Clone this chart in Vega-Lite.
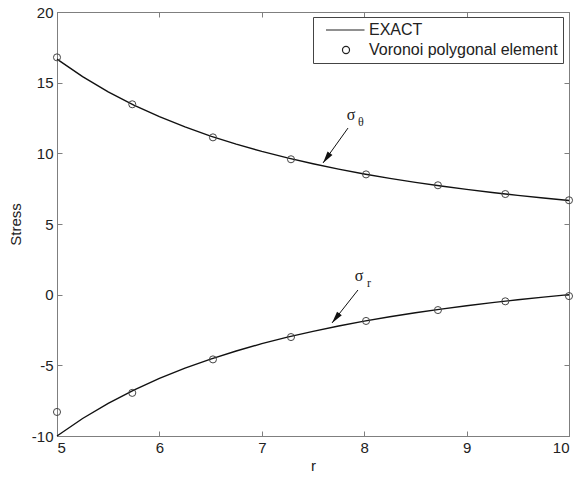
{
  "$schema": "https://vega.github.io/schema/vega-lite/v6.json",
  "width": 512,
  "height": 424,
  "autosize": {"type": "none"},
  "padding": {"left": 57, "top": 12, "right": 10, "bottom": 41},
  "config": {
    "font": "Liberation Sans",
    "view": {"stroke": "#7f7f7f", "strokeWidth": 1},
    "axis": {
      "domainColor": "#7f7f7f", "tickColor": "#7f7f7f", "tickSize": -5, "grid": false,
      "labelFont": "Liberation Sans", "labelFontSize": 15, "labelColor": "#222",
      "titleFont": "Liberation Sans", "titleFontSize": 15, "titleFontWeight": "normal", "titleColor": "#222"
    },
    "legend": {
      "orient": "none", "legendX": 256, "legendY": 5,
      "strokeColor": "#444", "fillColor": "white", "padding": 5,
      "labelFont": "Liberation Sans", "labelFontSize": 16, "labelColor": "#222", "labelOffset": 15, "labelLimit": 0,
      "symbolStrokeColor": "#222", "symbolFillColor": "transparent", "symbolStrokeWidth": 1.2,
      "symbolOffset": 20, "rowPadding": 4
    }
  },
  "datasets": {
    "exact": [
      {"r": 5, "stress": 16.667, "comp": "theta"}, {"r": 5.25, "stress": 15.427, "comp": "theta"},
      {"r": 5.5, "stress": 14.353, "comp": "theta"}, {"r": 5.75, "stress": 13.415, "comp": "theta"},
      {"r": 6, "stress": 12.593, "comp": "theta"}, {"r": 6.25, "stress": 11.867, "comp": "theta"},
      {"r": 6.5, "stress": 11.223, "comp": "theta"}, {"r": 6.75, "stress": 10.649, "comp": "theta"},
      {"r": 7, "stress": 10.136, "comp": "theta"}, {"r": 7.25, "stress": 9.675, "comp": "theta"},
      {"r": 7.5, "stress": 9.259, "comp": "theta"}, {"r": 7.75, "stress": 8.883, "comp": "theta"},
      {"r": 8, "stress": 8.542, "comp": "theta"}, {"r": 8.25, "stress": 8.231, "comp": "theta"},
      {"r": 8.5, "stress": 7.947, "comp": "theta"}, {"r": 8.75, "stress": 7.687, "comp": "theta"},
      {"r": 9, "stress": 7.449, "comp": "theta"}, {"r": 9.25, "stress": 7.229, "comp": "theta"},
      {"r": 9.5, "stress": 7.027, "comp": "theta"}, {"r": 9.75, "stress": 6.840, "comp": "theta"},
      {"r": 10, "stress": 6.667, "comp": "theta"},
      {"r": 5, "stress": -10.0, "comp": "r"}, {"r": 5.25, "stress": -8.760, "comp": "r"},
      {"r": 5.5, "stress": -7.686, "comp": "r"}, {"r": 5.75, "stress": -6.749, "comp": "r"},
      {"r": 6, "stress": -5.926, "comp": "r"}, {"r": 6.25, "stress": -5.200, "comp": "r"},
      {"r": 6.5, "stress": -4.556, "comp": "r"}, {"r": 6.75, "stress": -3.983, "comp": "r"},
      {"r": 7, "stress": -3.469, "comp": "r"}, {"r": 7.25, "stress": -3.008, "comp": "r"},
      {"r": 7.5, "stress": -2.593, "comp": "r"}, {"r": 7.75, "stress": -2.216, "comp": "r"},
      {"r": 8, "stress": -1.875, "comp": "r"}, {"r": 8.25, "stress": -1.564, "comp": "r"},
      {"r": 8.5, "stress": -1.280, "comp": "r"}, {"r": 8.75, "stress": -1.020, "comp": "r"},
      {"r": 9, "stress": -0.782, "comp": "r"}, {"r": 9.25, "stress": -0.562, "comp": "r"},
      {"r": 9.5, "stress": -0.360, "comp": "r"}, {"r": 9.75, "stress": -0.173, "comp": "r"},
      {"r": 10, "stress": 0.0, "comp": "r"}
    ],
    "voronoi": [
      {"r": 5, "stress": 16.79, "series": "Voronoi polygonal element"},
      {"r": 5.735, "stress": 13.47, "series": "Voronoi polygonal element"},
      {"r": 6.523, "stress": 11.13, "series": "Voronoi polygonal element"},
      {"r": 7.285, "stress": 9.58, "series": "Voronoi polygonal element"},
      {"r": 8.018, "stress": 8.51, "series": "Voronoi polygonal element"},
      {"r": 8.72, "stress": 7.74, "series": "Voronoi polygonal element"},
      {"r": 9.378, "stress": 7.12, "series": "Voronoi polygonal element"},
      {"r": 10, "stress": 6.68, "series": "Voronoi polygonal element"},
      {"r": 5, "stress": -8.3, "series": "Voronoi polygonal element"},
      {"r": 5.735, "stress": -6.95, "series": "Voronoi polygonal element"},
      {"r": 6.523, "stress": -4.58, "series": "Voronoi polygonal element"},
      {"r": 7.285, "stress": -3.0, "series": "Voronoi polygonal element"},
      {"r": 8.018, "stress": -1.86, "series": "Voronoi polygonal element"},
      {"r": 8.72, "stress": -1.09, "series": "Voronoi polygonal element"},
      {"r": 9.378, "stress": -0.47, "series": "Voronoi polygonal element"},
      {"r": 10, "stress": -0.1, "series": "Voronoi polygonal element"}
    ],
    "ann": [
      {"sym": "σ", "sub": "θ", "tx": 7.871, "ty": 12.71, "x1": 7.842, "y1": 11.79, "x2": 7.598, "y2": 9.32, "angle": 35.5},
      {"sym": "σ", "sub": "r", "tx": 7.949, "ty": 1.32, "x1": 7.939, "y1": 0.33, "x2": 7.686, "y2": -2.0, "angle": 38}
    ]
  },
  "layer": [
    {
      "data": {"name": "exact"},
      "mark": {"type": "line", "color": "#111", "strokeWidth": 1.4},
      "encoding": {
        "x": {"field": "r", "type": "quantitative", "scale": {"domain": [5, 10], "nice": false, "zero": false},
              "axis": {"orient": "bottom", "values": [5, 6, 7, 8, 9, 10], "title": "r", "labelPadding": 9, "titlePadding": 3, "labelExpr": "'' + datum.value"}},
        "y": {"field": "stress", "type": "quantitative", "scale": {"domain": [-10, 20], "nice": false, "zero": false},
              "axis": {"orient": "left", "values": [-10, -5, 0, 5, 10, 15, 20], "title": "Stress", "labelPadding": 9, "titlePadding": 8, "labelExpr": "'' + datum.value"}},
        "detail": {"field": "comp"}
      }
    },
    {
      "data": {"name": "exact"},
      "mark": {"type": "line", "opacity": 0},
      "encoding": {
        "x": {"field": "r", "type": "quantitative",
              "axis": {"orient": "top", "values": [5, 6, 7, 8, 9, 10], "labels": false, "title": null}},
        "y": {"field": "stress", "type": "quantitative",
              "axis": {"orient": "right", "values": [-10, -5, 0, 5, 10, 15, 20], "labels": false, "title": null}},
        "detail": {"field": "comp"}
      }
    },
    {
      "data": {"name": "voronoi"},
      "mark": {"type": "point", "filled": false, "stroke": "#444", "strokeWidth": 1, "opacity": 1},
      "encoding": {
        "x": {"field": "r", "type": "quantitative", "axis": null},
        "y": {"field": "stress", "type": "quantitative", "axis": null},
        "shape": {"field": "series", "type": "nominal",
                  "scale": {"domain": ["EXACT", "Voronoi polygonal element"], "range": ["M-4,0L3.7,0", "circle"]},
                  "legend": {"title": null}},
        "size": {"field": "series", "type": "nominal",
                 "scale": {"domain": ["EXACT", "Voronoi polygonal element"], "range": [100, 50]},
                 "legend": {"title": null}}
      }
    },
    {
      "data": {"name": "ann"},
      "mark": {"type": "rule", "color": "#111", "strokeWidth": 1},
      "encoding": {
        "x": {"field": "x1", "type": "quantitative", "axis": null},
        "y": {"field": "y1", "type": "quantitative", "axis": null},
        "x2": {"field": "x2"},
        "y2": {"field": "y2"}
      }
    },
    {
      "data": {"name": "ann"},
      "mark": {"type": "point", "shape": "M0,0L-0.5,-2L0.5,-2Z", "filled": true, "color": "#111", "size": 144, "opacity": 1},
      "encoding": {
        "x": {"field": "x2", "type": "quantitative", "axis": null},
        "y": {"field": "y2", "type": "quantitative", "axis": null},
        "angle": {"field": "angle", "type": "quantitative", "scale": null}
      }
    },
    {
      "data": {"name": "ann"},
      "mark": {"type": "text", "font": "Liberation Serif", "fontSize": 16, "color": "#222", "align": "center", "baseline": "middle"},
      "encoding": {
        "x": {"field": "tx", "type": "quantitative", "axis": null},
        "y": {"field": "ty", "type": "quantitative", "axis": null},
        "text": {"field": "sym"}
      }
    },
    {
      "data": {"name": "ann"},
      "mark": {"type": "text", "font": "Liberation Serif", "fontSize": 12, "color": "#222", "align": "center", "baseline": "middle", "dx": 10, "dy": 7},
      "encoding": {
        "x": {"field": "tx", "type": "quantitative", "axis": null},
        "y": {"field": "ty", "type": "quantitative", "axis": null},
        "text": {"field": "sub"}
      }
    }
  ],
  "resolve": {"axis": {"x": "independent", "y": "independent"}}
}
